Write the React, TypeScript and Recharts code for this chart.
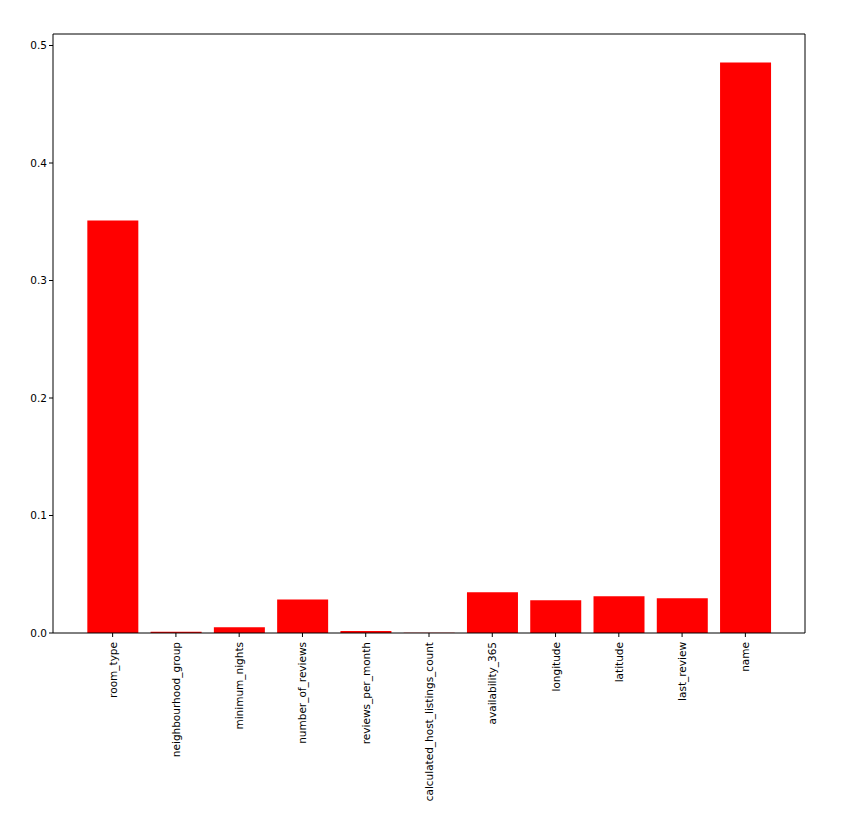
import { BarChart, Bar, XAxis, YAxis, ReferenceLine } from 'recharts';

// feature names and their importance scores
const features = [
  'room_type',
  'neighbourhood_group',
  'minimum_nights',
  'number_of_reviews',
  'reviews_per_month',
  'calculated_host_listings_count',
  'availability_365',
  'longitude',
  'latitude',
  'last_review',
  'name',
];
const importances = [0.351, 0.001, 0.005, 0.0285, 0.0017, 0.0002, 0.0347, 0.0278, 0.0312, 0.0296, 0.4855];
const yTicks = [0, 0.1, 0.2, 0.3, 0.4, 0.5];
const yMax = 0.5098;

const data = features.map((f, i) => ({ name: f, value: importances[i] }));

const FONT = '"DejaVu Sans", sans-serif';

// rotated category label, reads bottom-to-top like matplotlib rotation=90
function RotatedTick(props: any) {
  const { x, y, payload } = props;
  return (
    <g transform={`translate(${x},${y + 3})`}>
      <text
        transform="rotate(-90)"
        textAnchor="end"
        dominantBaseline="central"
        fontFamily={FONT}
        fontSize={10.5}
        fill="#000"
      >
        {payload.value}
      </text>
    </g>
  );
}

export default function App() {
  return (
    <div style={{ position: 'absolute', left: 0, top: 0, background: '#fff' }}>
      <BarChart
        width={843}
        height={835}
        data={data}
        margin={{ top: 34, right: 37, bottom: 0, left: 0 }}
        barCategoryGap="10%"
      >
        <XAxis
          dataKey="name"
          interval={0}
          padding={{ left: 28, right: 28 }}
          height={202}
          tick={<RotatedTick />}
          tickSize={4}
          stroke="#000"
          tickLine={{ stroke: '#000' }}
        />
        <YAxis
          domain={[0, yMax]}
          ticks={yTicks}
          allowDataOverflow
          width={53}
          tickSize={4}
          tickFormatter={(v: number) => v.toFixed(1)}
          tick={{ fontFamily: FONT, fontSize: 10.5, fill: '#000' }}
          stroke="#000"
          tickLine={{ stroke: '#000' }}
        />
        <YAxis
          yAxisId="right"
          orientation="right"
          domain={[0, yMax]}
          allowDataOverflow
          width={1}
          tick={false}
          tickLine={false}
          stroke="#000"
        />
        <Bar dataKey="value" fill="#ff0000" isAnimationActive={false} />
        {/* top spine */}
        <ReferenceLine y={yMax} stroke="#000" strokeWidth={1} ifOverflow="visible" />
      </BarChart>
    </div>
  );
}
